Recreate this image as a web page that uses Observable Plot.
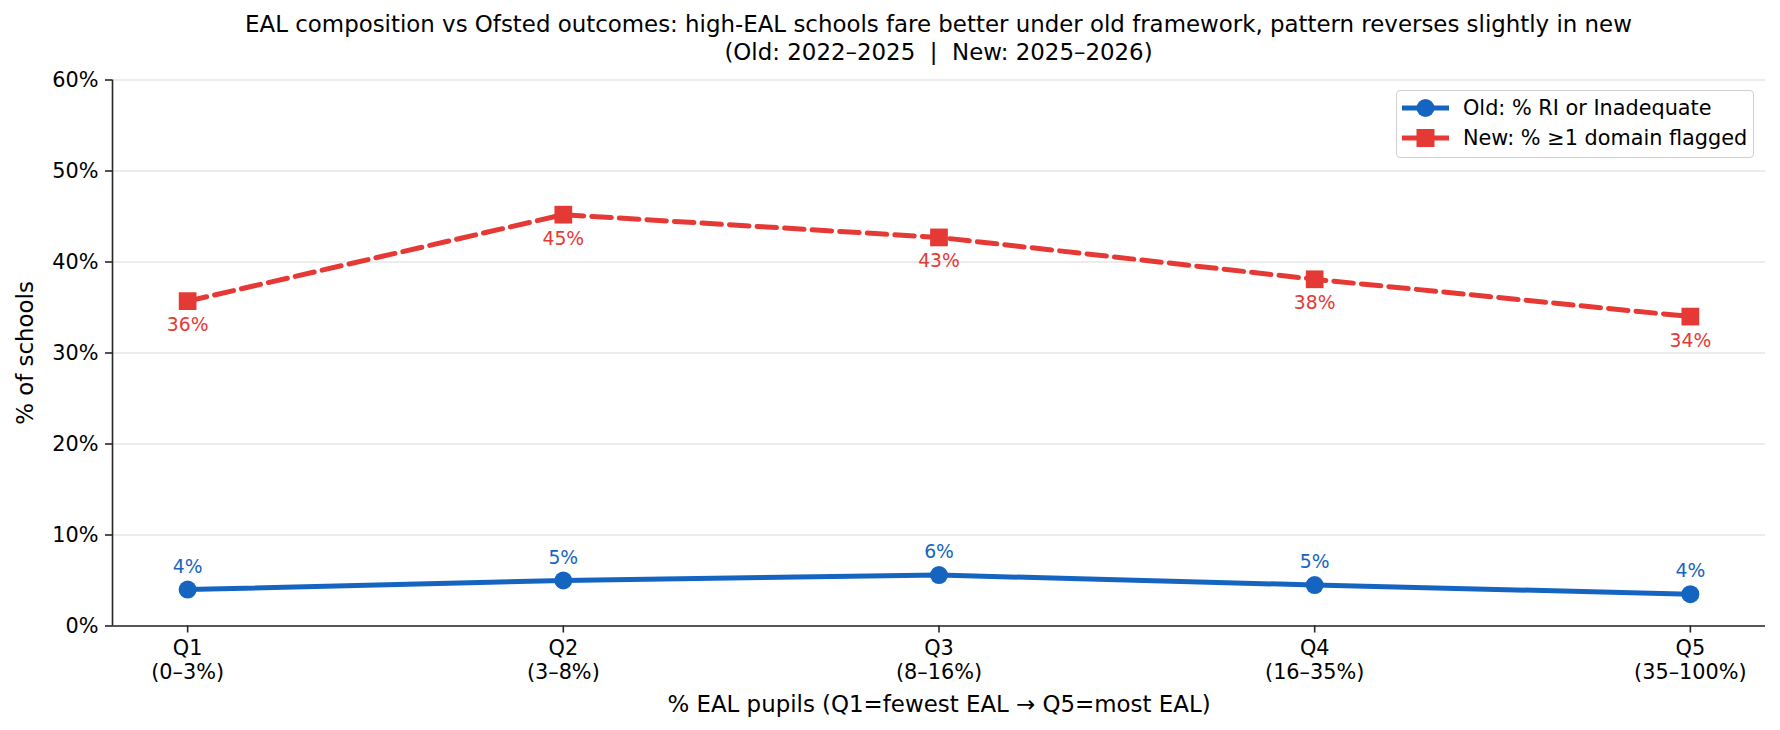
<!DOCTYPE html>
<html>
<head>
<meta charset="utf-8">
<script src="https://cdn.jsdelivr.net/npm/d3@7"></script>
<script src="https://cdn.jsdelivr.net/npm/@observablehq/plot@0.6"></script>
<style>
  html, body { margin: 0; padding: 0; background: #fff; }
  body { font-family: "DejaVu Sans", sans-serif; color: #000; }
  #wrap { position: relative; width: 1780px; height: 730px; overflow: hidden; }
  #title { position: absolute; left: 112px; width: 1653px; top: 11px; text-align: center;
           font-size: 22.9px; line-height: 27.5px; white-space: pre; }
  #chart { position: absolute; left: 0; top: 66px; }
  #legend { position: absolute; left: 1396px; top: 90px; width: 356px; height: 64px;
            border: 1.5px solid #d0d0d0; border-radius: 4px; background: rgba(255,255,255,0.85);
            font-size: 20.8px; padding-top: 2px; box-sizing: content-box; }
  .row { height: 30px; display: flex; align-items: center; padding-left: 5px; }
  .row svg { margin-right: 14px; }
</style>
</head>
<body>
<div id="wrap">
  <div id="title"></div>
  <div id="chart"></div>
  <div id="legend"></div>
</div>
<script>
const titleLines = [
  "EAL composition vs Ofsted outcomes: high-EAL schools fare better under old framework, pattern reverses slightly in new",
  "(Old: 2022–2025  |  New: 2025–2026)"
];
const categories = ["Q1", "Q2", "Q3", "Q4", "Q5"];
const ranges = ["(0–3%)", "(3–8%)", "(8–16%)", "(16–35%)", "(35–100%)"];
const oldValues = [4.0, 5.0, 5.6, 4.5, 3.5];
const newValues = [35.7, 45.2, 42.7, 38.1, 34.0];
const seriesNames = ["Old: % RI or Inadequate", "New: % ≥1 domain flagged"];
const yTicks = [0, 10, 20, 30, 40, 50, 60];
const xLabel = "% EAL pupils (Q1=fewest EAL → Q5=most EAL)";
const yLabel = "% of schools";

const BLUE = "#1565C0", RED = "#E53935", SPINE = "#262626";

document.getElementById("title").textContent = titleLines.join("\n");

const oldData = oldValues.map((v, i) => ({i, v, label: Math.round(v) + "%"}));
const newData = newValues.map((v, i) => ({i, v, label: Math.round(v) + "%"}));

const chart = Plot.plot({
  width: 1780,
  height: 664,
  marginTop: 13.5,
  marginBottom: 104.5,
  marginLeft: 112,
  marginRight: 15,
  style: {fontFamily: "DejaVu Sans", fontSize: "20.8px", color: "#000", background: "transparent", overflow: "visible"},
  x: {type: "linear", domain: [-0.2, 4.2]},
  y: {type: "linear", domain: [0, 60]},
  marks: [
    Plot.gridY(yTicks, {stroke: "#e6e6e6", strokeOpacity: 1, strokeWidth: 1.3}),
    Plot.axisY({ticks: yTicks, tickFormat: d => d + "%", tickSize: 7, tickPadding: 7, label: null,
                stroke: SPINE, strokeWidth: 1.6, fontSize: 20.8, fill: "#000"}),
    Plot.axisX({ticks: [0, 1, 2, 3, 4], tickFormat: i => categories[i] + "\n" + ranges[i],
                tickSize: 7, tickPadding: 5.5, label: null, lineHeight: 1.15,
                stroke: SPINE, strokeWidth: 1.6, fontSize: 20.8, fill: "#000"}),
    Plot.ruleX([-0.2], {stroke: SPINE, strokeWidth: 1.6}),
    Plot.ruleY([0], {stroke: SPINE, strokeWidth: 1.6}),
    Plot.text([yLabel], {frameAnchor: "left", rotate: -90, dx: -87, fontSize: 22.9, fill: "#000",
                         textAnchor: "middle", lineAnchor: "middle"}),
    Plot.text([xLabel], {frameAnchor: "bottom", dy: 78.5, fontSize: 22.9, fill: "#000",
                         textAnchor: "middle", lineAnchor: "middle"}),
    Plot.line(newData, {x: "i", y: "v", stroke: RED, strokeWidth: 5, strokeDasharray: "19.5,8.1"}),
    Plot.dot(newData, {x: "i", y: "v", symbol: "square", r: 10, fill: RED, stroke: null}),
    Plot.text(newData, {x: "i", y: "v", text: "label", dy: 24, fill: RED, fontSize: 18.75}),
    Plot.line(oldData, {x: "i", y: "v", stroke: BLUE, strokeWidth: 5}),
    Plot.dot(oldData, {x: "i", y: "v", r: 9, fill: BLUE, stroke: null}),
    Plot.text(oldData, {x: "i", y: "v", text: "label", dy: -23, fill: BLUE, fontSize: 18.75})
  ]
});
document.getElementById("chart").appendChild(chart);

// Legend
const legend = document.getElementById("legend");
const legendSpecs = [
  {name: seriesNames[0], color: BLUE, dash: null, shape: "circle"},
  {name: seriesNames[1], color: RED, dash: "19.5,8.1", shape: "square"}
];
for (const s of legendSpecs) {
  const row = document.createElement("div");
  row.className = "row";
  const svg = d3.create("svg").attr("width", 47).attr("height", 22);
  svg.append("line").attr("x1", 0).attr("x2", 47).attr("y1", 11).attr("y2", 11)
    .attr("stroke", s.color).attr("stroke-width", 5).attr("stroke-dasharray", s.dash);
  if (s.shape === "circle") {
    svg.append("circle").attr("cx", 23.5).attr("cy", 11).attr("r", 9).attr("fill", s.color);
  } else {
    svg.append("rect").attr("x", 14.5).attr("y", 2).attr("width", 18).attr("height", 18).attr("fill", s.color);
  }
  row.appendChild(svg.node());
  const span = document.createElement("span");
  span.textContent = s.name;
  row.appendChild(span);
  legend.appendChild(row);
}
</script>
</body>
</html>
